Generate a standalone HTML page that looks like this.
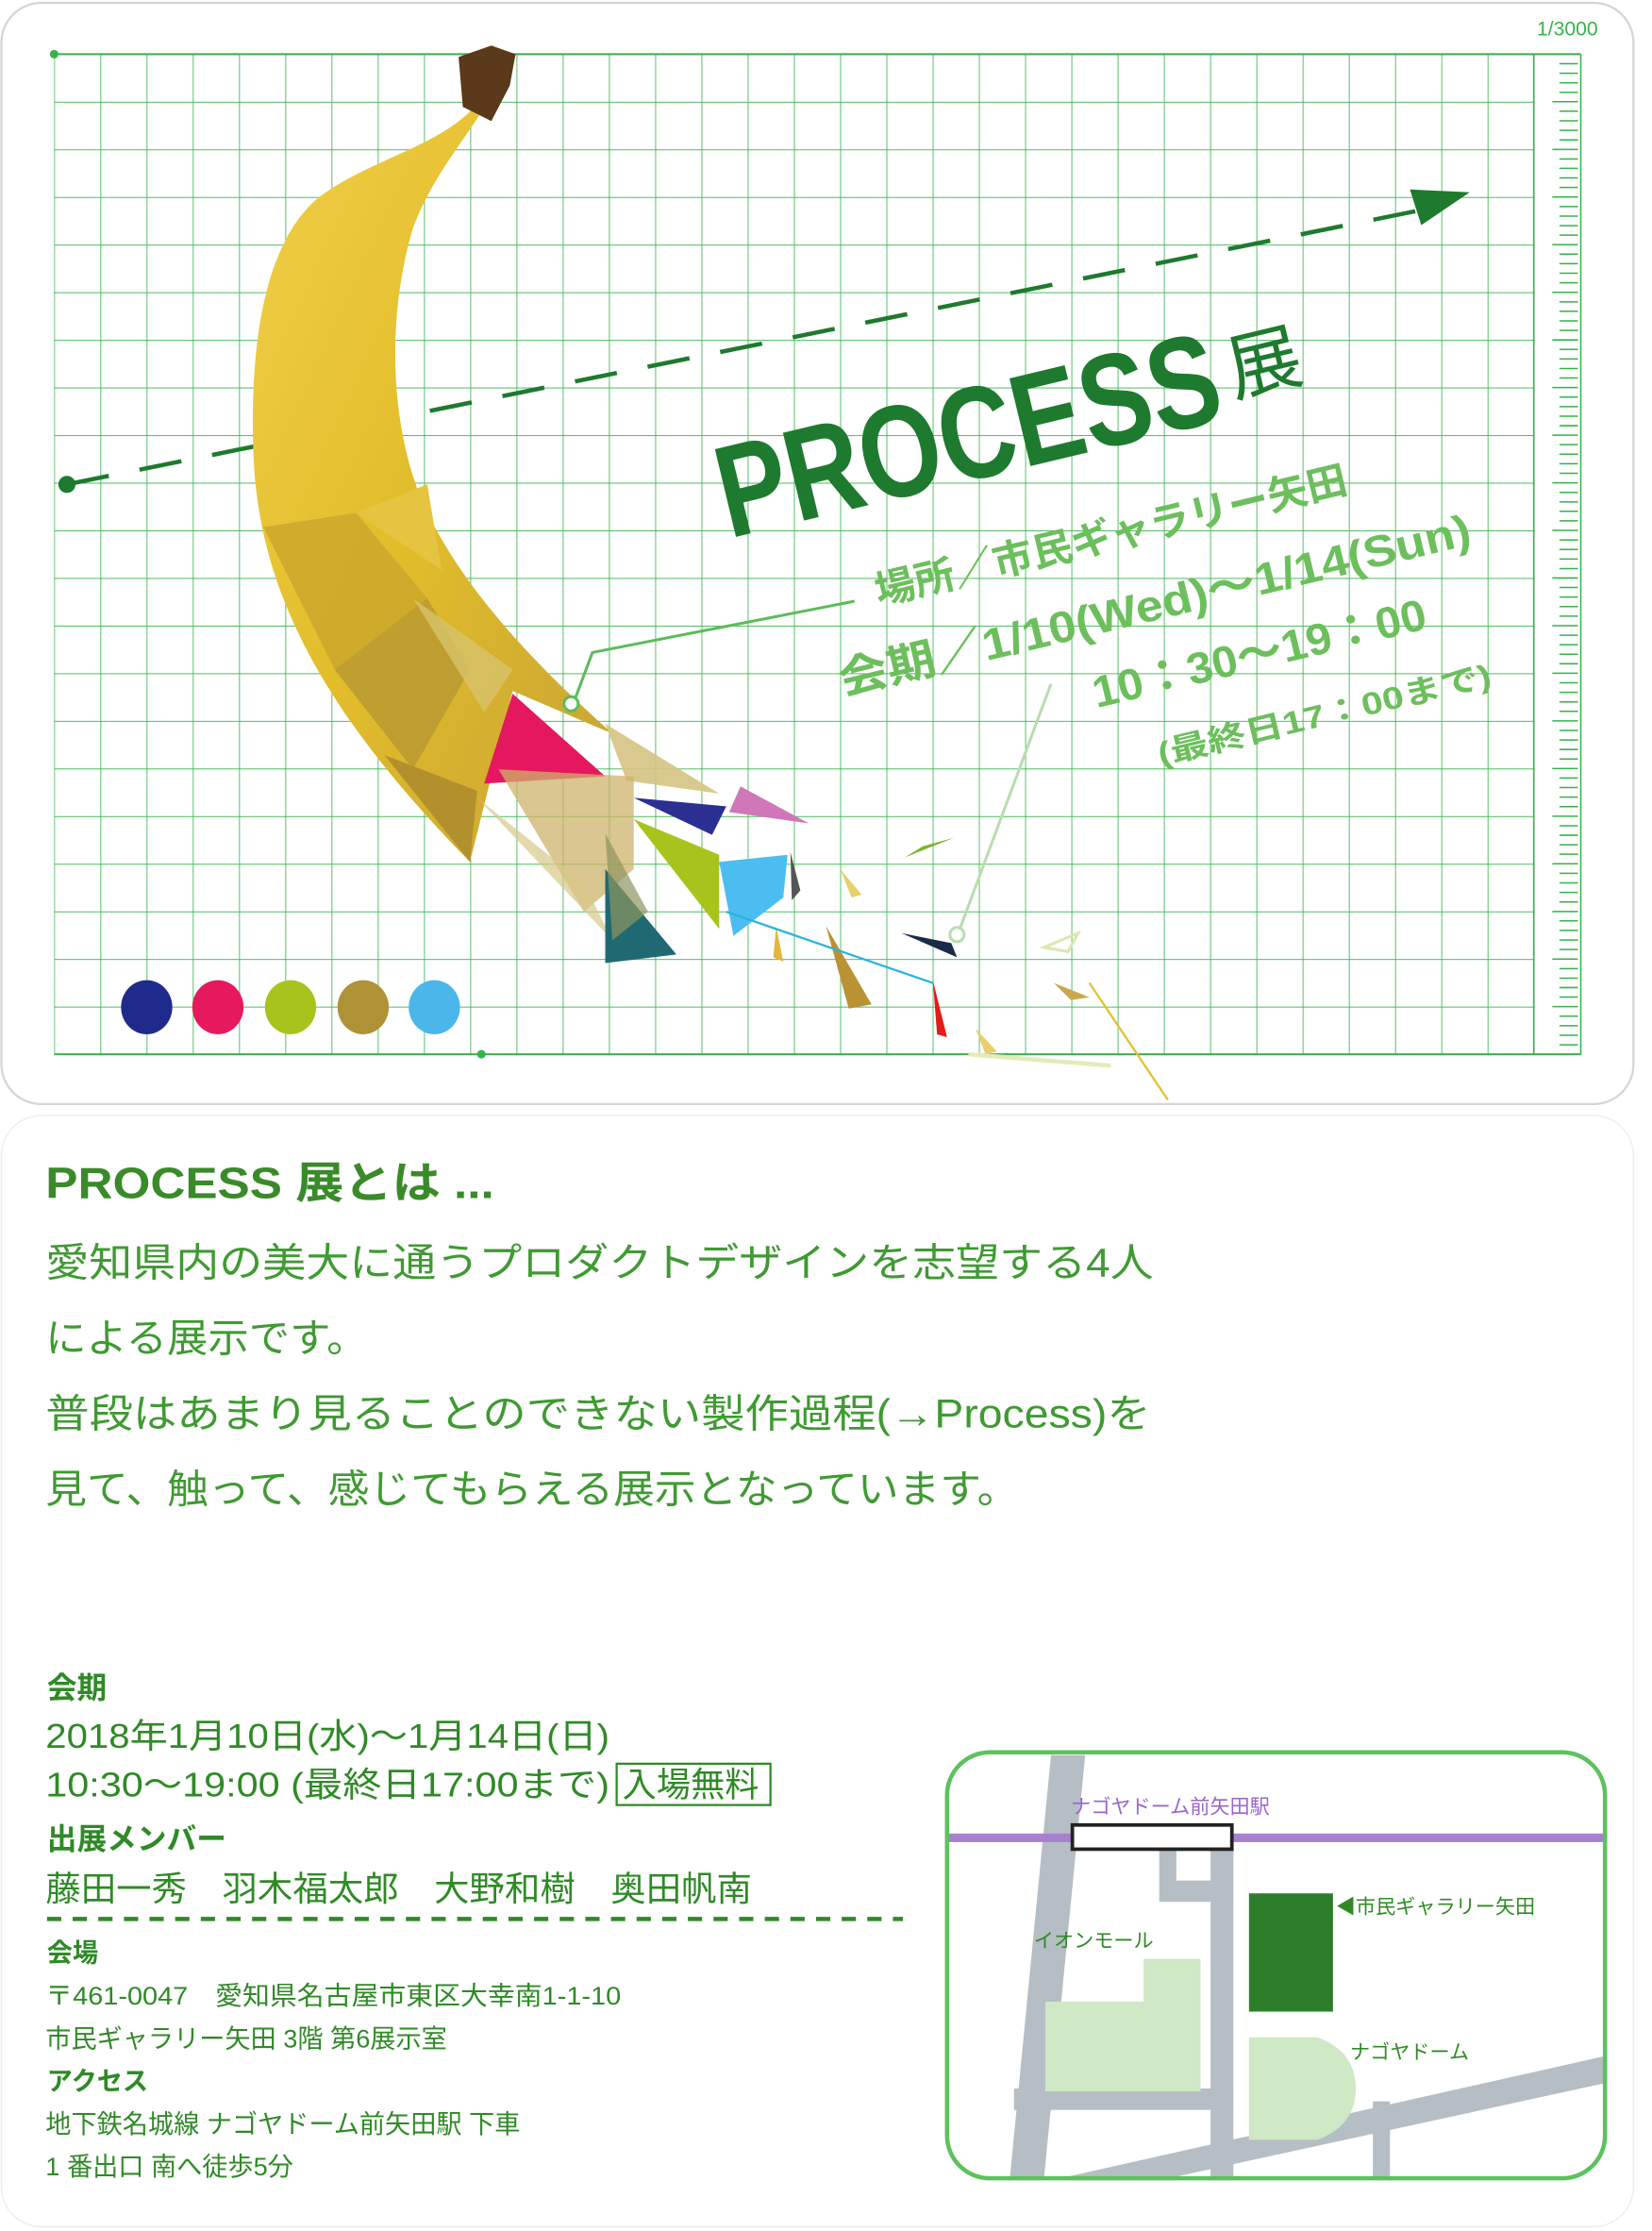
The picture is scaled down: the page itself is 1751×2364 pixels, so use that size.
<!DOCTYPE html>
<html><head><meta charset="utf-8"><style>
html,body{margin:0;padding:0;background:#fff;}
svg{display:block;}
text{font-family:"Liberation Sans","Noto Sans CJK JP",sans-serif;}
</style></head><body>
<svg width="1751" height="2364" viewBox="0 0 1160 1566" preserveAspectRatio="none" xmlns="http://www.w3.org/2000/svg">
<defs>
<linearGradient id="ban" x1="0" y1="0" x2="1" y2="1">
<stop offset="0" stop-color="#f1d04a"/><stop offset="0.5" stop-color="#e2bd2a"/><stop offset="1" stop-color="#c6a236"/>
</linearGradient>
<pattern id="grid" x="38" y="38" width="32.47" height="33.43" patternUnits="userSpaceOnUse">
<path d="M0 0V33.43M0 0H32.47" fill="none" stroke="#35b34a" stroke-width="1.1"/>
</pattern>
</defs>
<rect x="0" y="0" width="1160" height="1566" fill="#fff"/>
<rect x="1" y="2" width="1146" height="773" rx="28" fill="#fff" stroke="#d5d5d5" stroke-width="1.5"/>
<rect x="1" y="783" width="1146" height="780" rx="28" fill="#fff" stroke="#eee" stroke-width="1"/>
<rect x="38" y="38" width="1039" height="702" fill="url(#grid)"/>
<line x1="1077" y1="38" x2="1077" y2="740" stroke="#35b34a" stroke-width="1.1"/>
<line x1="38" y1="740" x2="1110" y2="740" stroke="#35b34a" stroke-width="1.3"/>
<line x1="38" y1="38" x2="1110" y2="38" stroke="#35b34a" stroke-width="1.3"/>
<circle cx="38" cy="38" r="3" fill="#35b34a"/>
<circle cx="338" cy="740" r="3" fill="#35b34a"/>
<line x1="1110" y1="38" x2="1110" y2="740" stroke="#35b34a" stroke-width="1"/>
<text x="1122" y="25" font-size="14" fill="#35b34a" text-anchor="end">1/3000</text>
<line x1="47" y1="340" x2="1000" y2="147" stroke="#1e7a2e" stroke-width="3" stroke-dasharray="30,22"/>
<circle cx="47" cy="340" r="6" fill="#1e7a2e"/>
<polygon points="990,133 1032,135 998,158" fill="#1e7a2e"/>
<!-- banana -->
<path d="M345,55 C330,100 262,108 222,140 C186,172 175,240 178,320 C182,420 232,505 330,605 L360,485 L430,515 C380,470 330,420 300,360 C272,300 272,220 290,160 C305,120 330,95 348,62 Z" fill="url(#ban)"/>
<path d="M322,40 L345,32 L362,38 L358,60 L345,85 L325,75 Z" fill="#5a3a1a"/>
<polygon points="185,370 250,360 300,420 235,470" fill="#c9a62a" opacity="0.8"/>
<polygon points="235,470 300,420 330,470 290,540" fill="#b89a30" opacity="0.85"/>
<polygon points="270,530 335,555 330,605" fill="#b2912c"/>
<polygon points="290,420 360,470 340,500" fill="#d8c36a" opacity="0.8"/>
<polygon points="250,360 300,340 310,400" fill="#e5c440"/>
<polygon points="360,487 340,550 425,545" fill="#e5175e"/>
<polygon points="425,508 505,557 440,548" fill="#d6c382" opacity="0.9"/>
<polygon points="350,540 445,545 445,610 410,640" fill="#cdb36b" opacity="0.75"/>
<polygon points="335,560 410,620 430,660" fill="#d8c88a" opacity="0.7"/>
<polygon points="445,560 510,566 500,586" fill="#2b2f92"/>
<polygon points="520,552 568,578 512,570" fill="#cf77b8"/>
<polygon points="445,575 505,600 505,652" fill="#a8c41c"/>
<polygon points="505,605 553,600 550,630 515,657" fill="#4cbdf0"/>
<polygon points="425,610 475,670 425,676" fill="#1f6a72"/>
<polygon points="425,585 455,640 430,660" fill="#8e9660" opacity="0.7"/>
<polygon points="555,598 562,625 556,632" fill="#555"/>
<polygon points="580,650 612,705 596,708" fill="#b89233"/>
<polygon points="590,610 605,628 598,630" fill="#e7cf6a"/>
<polygon points="545,650 550,675 543,672" fill="#e0b840"/>
<polygon points="655,688 665,728 658,726" fill="#e31a1a"/>
<polygon points="633,655 672,672 668,662" fill="#1a2a4a"/>
<polygon points="635,602 670,588 648,594" fill="#7ab52a"/>
<polygon points="740,690 765,700 752,702" fill="#c8a84a"/>
<polygon points="685,722 700,738 692,740" fill="#e7cf6a"/>
<polygon points="733,665 757,655 750,668" fill="none" stroke="#dde6b0" stroke-width="2"/>
<line x1="510" y1="640" x2="655" y2="690" stroke="#2bb3dd" stroke-width="1.5"/>
<line x1="765" y1="690" x2="820" y2="772" stroke="#e2c030" stroke-width="1.5"/>
<line x1="680" y1="740" x2="780" y2="748" stroke="#e6eab8" stroke-width="3"/>
<polyline points="600,422 416,458 404,490" fill="none" stroke="#5cbb5c" stroke-width="2"/>
<circle cx="401" cy="494" r="5" fill="#fff" stroke="#5cbb5c" stroke-width="2"/>
<line x1="738" y1="480" x2="674" y2="652" stroke="#b9dcb0" stroke-width="2"/>
<circle cx="672" cy="656" r="5" fill="none" stroke="#b9dcb0" stroke-width="2"/>
<g transform="translate(512,378) rotate(-13.5)">
<text x="0" y="0" font-family="'Liberation Sans Narrow','Liberation Sans',sans-serif" font-weight="bold" font-size="92" fill="#1e7a2e" textLength="360" lengthAdjust="spacingAndGlyphs">PROCESS</text>
<text x="368" y="-14" font-size="52" fill="#1e7a2e">展</text>
</g>
<g font-weight="bold" fill="#6cbf5c">
<text transform="translate(617,425) rotate(-13.5)" font-size="28" textLength="340" lengthAdjust="spacingAndGlyphs">場所／市民ギャラリー矢田</text>
<text transform="translate(592,488) rotate(-13.5)" font-size="31" textLength="455" lengthAdjust="spacingAndGlyphs">会期／1/10(Wed)～1/14(Sun)</text>
<text transform="translate(770,497) rotate(-13.5)" font-size="31" textLength="240" lengthAdjust="spacingAndGlyphs">10：30～19：00</text>
<text transform="translate(815,537) rotate(-13.5)" font-size="22" textLength="240" lengthAdjust="spacingAndGlyphs">(最終日17：00まで)</text>
</g>
<ellipse cx="103" cy="707" rx="18" ry="19" fill="#1f2b8c"/>
<ellipse cx="153" cy="707" rx="18" ry="19" fill="#e6195f"/>
<ellipse cx="204" cy="707" rx="18" ry="19" fill="#a8c41c"/>
<ellipse cx="255" cy="707" rx="18" ry="19" fill="#b09236"/>
<ellipse cx="305" cy="707" rx="18" ry="19" fill="#4ab6ea"/>
<text x="32" y="841" font-size="31" font-weight="bold" fill="#3a8a2a" textLength="315" lengthAdjust="spacingAndGlyphs">PROCESS 展とは ...</text>
<g font-size="28" fill="#3f9a32">
<text x="32" y="896" textLength="778" lengthAdjust="spacingAndGlyphs">愛知県内の美大に通うプロダクトデザインを志望する4人</text>
<text x="32" y="949" textLength="226" lengthAdjust="spacingAndGlyphs">による展示です。</text>
<text x="32" y="1002" textLength="776" lengthAdjust="spacingAndGlyphs">普段はあまり見ることのできない製作過程(→Process)を</text>
<text x="32" y="1055" textLength="683" lengthAdjust="spacingAndGlyphs">見て、触って、感じてもらえる展示となっています。</text>
</g>
<g fill="#2f8a26">
<text x="33" y="1192" font-size="21" font-weight="bold">会期</text>
<text x="32" y="1227" font-size="24" textLength="396" lengthAdjust="spacingAndGlyphs">2018年1月10日(水)～1月14日(日)</text>
<text x="32" y="1261" font-size="24" textLength="396" lengthAdjust="spacingAndGlyphs">10:30～19:00 (最終日17:00まで)</text>
<rect x="433" y="1238" width="108" height="29" fill="none" stroke="#2f8a26" stroke-width="1.5"/>
<text x="437" y="1261" font-size="24">入場無料</text>
<text x="33" y="1298" font-size="21" font-weight="bold">出展メンバー</text>
<text x="32" y="1334" font-size="24" xml:space="preserve" textLength="496" lengthAdjust="spacingAndGlyphs">藤田一秀　羽木福太郎　大野和樹　奥田帆南</text>
<line x1="33" y1="1347" x2="634" y2="1347" stroke="#2f8a26" stroke-width="3" stroke-dasharray="10,8"/>
<text x="33" y="1377" font-size="18" font-weight="bold">会場</text>
<text x="32" y="1407" font-size="18" xml:space="preserve" textLength="404" lengthAdjust="spacingAndGlyphs">〒461-0047　愛知県名古屋市東区大幸南1-1-10</text>
<text x="32" y="1437" font-size="18">市民ギャラリー矢田 3階 第6展示室</text>
<text x="33" y="1467" font-size="18" font-weight="bold">アクセス</text>
<text x="32" y="1497" font-size="18">地下鉄名城線 ナゴヤドーム前矢田駅 下車</text>
<text x="32" y="1527" font-size="18">1 番出口 南へ徒歩5分</text>
</g>
<clipPath id="mc"><rect x="665" y="1230" width="462" height="299" rx="30"/></clipPath>
<g clip-path="url(#mc)">
<rect x="665" y="1230" width="462" height="299" fill="#fff"/>
<polygon points="738,1232 762,1232 733,1530 709,1530" fill="#b5bec4"/>
<rect x="850" y="1298" width="16" height="232" fill="#b5bec4"/>
<path d="M814,1298 H866 V1335 H814 Z M826,1298 V1320 H852 V1298 Z" fill="#b5bec4" fill-rule="evenodd"/>
<rect x="712" y="1466" width="154" height="15" fill="#b5bec4"/>
<polygon points="740,1530 1128,1443 1128,1462 770,1540" fill="#b5bec4"/>
<rect x="964" y="1475" width="12" height="55" fill="#b5bec4"/>
<rect x="665" y="1287" width="462" height="6" fill="#a97fd0"/>
<rect x="753" y="1281" width="112" height="17" fill="#fff" stroke="#222" stroke-width="2.5"/>
<polygon points="734,1405 803,1405 803,1375 843,1375 843,1468 734,1468" fill="#cfe8c5"/>
<rect x="877" y="1329" width="59" height="83" fill="#2e7d2a"/>
<path d="M877,1430 H925 Q952,1440 952,1466 Q952,1492 925,1502 H877 Z" fill="#cfe8c5"/>
</g>
<rect x="665" y="1230" width="462" height="299" rx="30" fill="none" stroke="#5cc25c" stroke-width="3"/>
<g font-size="14">
<text x="752" y="1273" fill="#9966cc">ナゴヤドーム前矢田駅</text>
<text x="938" y="1343" fill="#2f8a26">◀市民ギャラリー矢田</text>
<text x="726" y="1367" fill="#2f8a26">イオンモール</text>
<text x="948" y="1445" fill="#2f8a26">ナゴヤドーム</text>
</g>
<path id="rul" stroke="#35b34a" stroke-width="1" d=""/>
<script>
(function(){var d="";for(var y=44.7;y<740;y+=6.686){var i=Math.round((y-38)/6.686);d+="M"+(i%5==0?1090:1095)+" "+y.toFixed(1)+"H1108";}document.getElementById("rul").setAttribute("d",d);})();
</script>
</svg>
</body></html>
